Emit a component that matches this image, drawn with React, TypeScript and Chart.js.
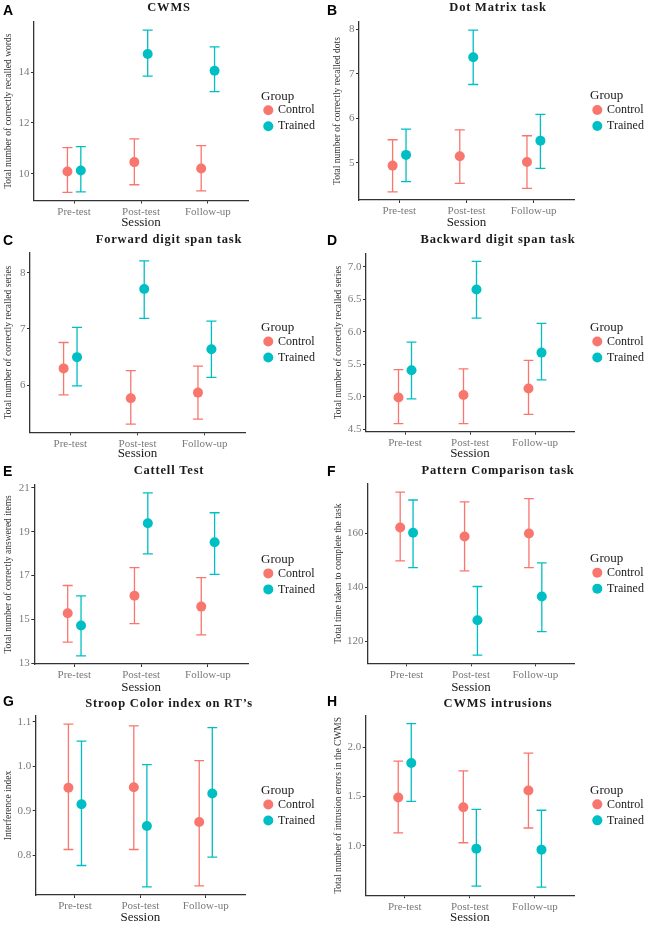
import React, { useEffect, useRef } from "react";
import { Chart, registerables } from "chart.js";

Chart.register(...registerables);

// ---------- shared labels ----------
const sessions = ["Pre-test", "Post-test", "Follow-up"];
const groupNames = ["Control", "Trained"];
const groupColors = ["#F8766D", "#00BFC4"];
const legendTitle = "Group";
const xAxisTitle = "Session";

// ---------- A: CWMS ----------
const cwmsControlMean = [10.09, 10.46, 10.21];
const cwmsControlLow = [9.27, 9.57, 9.33];
const cwmsControlHigh = [11.03, 11.37, 11.11];
const cwmsTrainedMean = [10.13, 14.71, 14.05];
const cwmsTrainedLow = [9.29, 13.84, 13.23];
const cwmsTrainedHigh = [11.07, 15.65, 14.99];
const cwmsTicks = ["10", "12", "14"];

// ---------- B: Dot Matrix ----------
const dotControlMean = [4.94, 5.15, 5.02];
const dotControlLow = [4.35, 4.54, 4.43];
const dotControlHigh = [5.52, 5.74, 5.61];
const dotTrainedMean = [5.18, 7.37, 5.5];
const dotTrainedLow = [4.58, 6.76, 4.88];
const dotTrainedHigh = [5.76, 7.98, 6.09];
const dotTicks = ["5", "6", "7", "8"];

// ---------- C: Forward digit span ----------
const fwdControlMean = [6.3, 5.77, 5.87];
const fwdControlLow = [5.83, 5.31, 5.4];
const fwdControlHigh = [6.76, 6.26, 6.34];
const fwdTrainedMean = [6.5, 7.71, 6.64];
const fwdTrainedLow = [5.99, 7.19, 6.14];
const fwdTrainedHigh = [7.03, 8.21, 7.14];
const fwdTicks = ["6", "7", "8"];

// ---------- D: Backward digit span ----------
const bwdControlMean = [4.99, 5.03, 5.13];
const bwdControlLow = [4.59, 4.59, 4.73];
const bwdControlHigh = [5.42, 5.43, 5.56];
const bwdTrainedMean = [5.41, 6.65, 5.68];
const bwdTrainedLow = [4.97, 6.21, 5.26];
const bwdTrainedHigh = [5.84, 7.08, 6.13];
const bwdTicks = ["4.5", "5.0", "5.5", "6.0", "6.5", "7.0"];

// ---------- E: Cattell ----------
const catControlMean = [15.29, 16.08, 15.59];
const catControlLow = [13.97, 14.82, 14.3];
const catControlHigh = [16.55, 17.36, 16.91];
const catTrainedMean = [14.73, 19.38, 18.52];
const catTrainedLow = [13.35, 17.99, 17.06];
const catTrainedHigh = [16.08, 20.76, 19.86];
const catTicks = ["13", "15", "17", "19", "21"];

// ---------- F: Pattern Comparison ----------
const patControlMean = [162.1, 158.8, 159.9];
const patControlLow = [149.8, 146.1, 147.3];
const patControlHigh = [175.2, 171.6, 172.8];
const patTrainedMean = [160.2, 127.8, 136.6];
const patTrainedLow = [147.3, 114.9, 123.6];
const patTrainedHigh = [172.3, 140.3, 149.0];
const patTicks = ["120", "140", "160"];

// ---------- G: Stroop ----------
const strControlMean = [0.952, 0.953, 0.875];
const strControlLow = [0.813, 0.813, 0.731];
const strControlHigh = [1.095, 1.091, 1.013];
const strTrainedMean = [0.915, 0.866, 0.939];
const strTrainedLow = [0.777, 0.729, 0.796];
const strTrainedHigh = [1.057, 1.004, 1.087];
const strTicks = ["0.8", "0.9", "1.0", "1.1"];

// ---------- H: CWMS intrusions ----------
const intControlMean = [1.49, 1.39, 1.56];
const intControlLow = [1.13, 1.03, 1.18];
const intControlHigh = [1.86, 1.76, 1.94];
const intTrainedMean = [1.84, 0.97, 0.96];
const intTrainedLow = [1.45, 0.59, 0.58];
const intTrainedHigh = [2.24, 1.37, 1.36];
const intTicks = ["1.0", "1.5", "2.0"];

const panels = [
  { letter: "A", title: "CWMS", yTitle: "Total number of correctly recalled words", yTicks: cwmsTicks,
    control: [cwmsControlMean, cwmsControlLow, cwmsControlHigh], trained: [cwmsTrainedMean, cwmsTrainedLow, cwmsTrainedHigh] },
  { letter: "B", title: "Dot Matrix task", yTitle: "Total number of correctly recalled dots", yTicks: dotTicks,
    control: [dotControlMean, dotControlLow, dotControlHigh], trained: [dotTrainedMean, dotTrainedLow, dotTrainedHigh] },
  { letter: "C", title: "Forward digit span task", yTitle: "Total number of correctly recalled series", yTicks: fwdTicks,
    control: [fwdControlMean, fwdControlLow, fwdControlHigh], trained: [fwdTrainedMean, fwdTrainedLow, fwdTrainedHigh] },
  { letter: "D", title: "Backward digit span task", yTitle: "Total number of correctly recalled series", yTicks: bwdTicks,
    control: [bwdControlMean, bwdControlLow, bwdControlHigh], trained: [bwdTrainedMean, bwdTrainedLow, bwdTrainedHigh] },
  { letter: "E", title: "Cattell Test", yTitle: "Total number of correctly answered items", yTicks: catTicks,
    control: [catControlMean, catControlLow, catControlHigh], trained: [catTrainedMean, catTrainedLow, catTrainedHigh] },
  { letter: "F", title: "Pattern Comparison task", yTitle: "Total time taken to complete the task", yTicks: patTicks,
    control: [patControlMean, patControlLow, patControlHigh], trained: [patTrainedMean, patTrainedLow, patTrainedHigh] },
  { letter: "G", title: "Stroop Color index on RT\u2019s", yTitle: "Interference index", yTicks: strTicks,
    control: [strControlMean, strControlLow, strControlHigh], trained: [strTrainedMean, strTrainedLow, strTrainedHigh] },
  { letter: "H", title: "CWMS intrusions", yTitle: "Total number of intrusion errors in the CWMS", yTicks: intTicks,
    control: [intControlMean, intControlLow, intControlHigh], trained: [intTrainedMean, intTrainedLow, intTrainedHigh] },
];

// ---------- layout (positions, not data) ----------
const ROW_TOP = [0, 230, 460, 695];
const ROW_H = [230, 230, 235, 236];
const COL_LEFT = [0, 324];
const COL_W = 324;
const TITLE_X = [169, 174];
const TITLE_Y = [8, 10, 11, 8.5];
const LETTER_BASE = [15, 15, 16, 10.5];
const LEGEND_X = [261, 266];

const layouts = [
  { col: 0, row: 0, plotLeft: 34, plotRight: 248, plotTop: 22, plotBottom: 200.5, yTitleX: 8.5, sessionY: 223 },
  { col: 1, row: 0, plotLeft: 35, plotRight: 250, plotTop: 22, plotBottom: 200, yTitleX: 13.3, sessionY: 222.7 },
  { col: 0, row: 1, plotLeft: 30, plotRight: 245, plotTop: 22.7, plotBottom: 202.3, yTitleX: 8.3, sessionY: 223.5 },
  { col: 1, row: 1, plotLeft: 42, plotRight: 250, plotTop: 23.3, plotBottom: 201.7, yTitleX: 14, sessionY: 223.5 },
  { col: 0, row: 2, plotLeft: 34.3, plotRight: 248, plotTop: 24.8, plotBottom: 204, yTitleX: 8.3, sessionY: 228 },
  { col: 1, row: 2, plotLeft: 44, plotRight: 250, plotTop: 24, plotBottom: 203.3, yTitleX: 14, sessionY: 227.7 },
  { col: 0, row: 3, plotLeft: 35.7, plotRight: 245, plotTop: 21, plotBottom: 200, yTitleX: 8.3, sessionY: 222.7 },
  { col: 1, row: 3, plotLeft: 41.7, plotRight: 250, plotTop: 20.5, plotBottom: 200.2, yTitleX: 14, sessionY: 222.7 },
];

const DODGE = 0.1;
const CAP = 0.075;
const SERIF = '"Liberation Serif", "Times New Roman", serif';
const SANS = '"Liberation Sans", Arial, sans-serif';
const Y_TITLE_SIZE = 9.5;
const X_TITLE_SIZE = 13;
const TICK_COLOR = "#7a7a7a";
const AXIS_COLOR = "#333333";
const TEXT_COLOR = "#1a1a1a";

function PanelChart({ p, l }: { p: any; l: any }) {
  const ref = useRef<HTMLCanvasElement>(null);
  const H = ROW_H[l.row];
  const W = COL_W;

  useEffect(() => {
    const canvas = ref.current;
    if (!canvas) return;
    const series = [p.control, p.trained];
    const lo = Math.min(...p.control[1], ...p.trained[1]);
    const hi = Math.max(...p.control[2], ...p.trained[2]);
    const span = hi - lo;
    const yMin = lo - 0.05 * span;
    const yMax = hi + 0.05 * span;
    const tickVals = p.yTicks.map((t: string) => parseFloat(t));
    const sessionY = Math.min(l.sessionY, H - X_TITLE_SIZE / 2);
    const padLeft = l.yTitleX - Y_TITLE_SIZE / 2;
    const padBottom = H - (sessionY + X_TITLE_SIZE / 2);

    const errorBars = {
      id: "errorBars",
      beforeDatasetsDraw(chart: any) {
        const { ctx } = chart;
        const xs = chart.scales.x;
        const ys = chart.scales.y;
        ctx.save();
        ctx.lineWidth = 1.3;
        series.forEach((s: number[][], gi: number) => {
          ctx.strokeStyle = groupColors[gi];
          s[0].forEach((_v: number, i: number) => {
            const xv = i + 1 + (gi === 0 ? -DODGE : DODGE);
            const px = xs.getPixelForValue(xv);
            const half = xs.getPixelForValue(xv + CAP) - px;
            const top = ys.getPixelForValue(s[2][i]);
            const bot = ys.getPixelForValue(s[1][i]);
            ctx.beginPath();
            ctx.moveTo(px, top);
            ctx.lineTo(px, bot);
            ctx.moveTo(px - half, top);
            ctx.lineTo(px + half, top);
            ctx.moveTo(px - half, bot);
            ctx.lineTo(px + half, bot);
            ctx.stroke();
          });
        });
        ctx.restore();
      },
    };

    const decor = {
      id: "decor",
      afterDraw(chart: any) {
        const ctx = chart.ctx;
        const ca = chart.chartArea;
        ctx.save();
        // panel letter
        ctx.fillStyle = "#000";
        ctx.font = `bold 14px ${SANS}`;
        ctx.textAlign = "left";
        ctx.textBaseline = "alphabetic";
        ctx.fillText(p.letter, 3, LETTER_BASE[l.row]);
        // title
        ctx.fillStyle = TEXT_COLOR;
        ctx.font = `bold 12.5px ${SERIF}`;
        ctx.textAlign = "center";
        ctx.textBaseline = "middle";
        (ctx as any).letterSpacing = "0.8px";
        ctx.fillText(p.title, TITLE_X[l.col], TITLE_Y[l.row]);
        (ctx as any).letterSpacing = "0px";
        // legend
        const mid = (ca.top + ca.bottom) / 2;
        const lx = LEGEND_X[l.col];
        ctx.textAlign = "left";
        ctx.font = `13px ${SERIF}`;
        ctx.fillText(legendTitle, lx, mid - 15);
        groupNames.forEach((g, gi) => {
          const cy = mid - 1 + gi * 16;
          ctx.fillStyle = groupColors[gi];
          ctx.beginPath();
          ctx.arc(lx + 7.3, cy, 5, 0, Math.PI * 2);
          ctx.fill();
          ctx.fillStyle = TEXT_COLOR;
          ctx.font = `12px ${SERIF}`;
          ctx.fillText(g, lx + 17, cy);
        });
        ctx.restore();
      },
    };

    const chart = new Chart(canvas, {
      type: "scatter",
      data: {
        datasets: series.map((s: number[][], gi: number) => ({
          label: groupNames[gi],
          data: s[0].map((m: number, i: number) => ({ x: i + 1 + (gi === 0 ? -DODGE : DODGE), y: m })),
          backgroundColor: groupColors[gi],
          borderWidth: 0,
          pointRadius: 5,
          pointHoverRadius: 5,
        })),
      },
      options: {
        animation: false,
        responsive: false,
        maintainAspectRatio: false,
        events: [],
        layout: {
          padding: { left: padLeft, top: l.plotTop, right: W - l.plotRight, bottom: padBottom },
        },
        plugins: {
          legend: { display: false },
          title: { display: false },
          tooltip: { enabled: false },
        },
        scales: {
          x: {
            type: "linear",
            min: 0.4,
            max: 3.6,
            bounds: "data",
            afterBuildTicks: (s: any) => {
              s.ticks = sessions.map((_n, i) => ({ value: i + 1 }));
            },
            afterFit: (s: any) => {
              s.height = sessionY + X_TITLE_SIZE / 2 - l.plotBottom;
            },
            ticks: {
              callback: (v: any) => sessions[Math.round(Number(v)) - 1],
              font: { family: SERIF, size: 11 },
              color: TICK_COLOR,
              padding: 2,
              autoSkip: false,
              maxRotation: 0,
              minRotation: 0,
            },
            grid: { drawOnChartArea: false, drawTicks: true, tickLength: 3, color: AXIS_COLOR, lineWidth: 1 },
            border: { display: true, color: AXIS_COLOR, width: 1.3 },
            title: {
              display: true,
              text: xAxisTitle,
              font: { family: SERIF, size: X_TITLE_SIZE, lineHeight: 1 },
              padding: 0,
              color: TEXT_COLOR,
            },
          },
          y: {
            type: "linear",
            min: yMin,
            max: yMax,
            bounds: "data",
            afterBuildTicks: (s: any) => {
              s.ticks = tickVals.map((v: number) => ({ value: v }));
            },
            afterFit: (s: any) => {
              s.width = l.plotLeft - padLeft;
            },
            ticks: {
              callback: (_v: any, i: number) => p.yTicks[i],
              font: { family: SERIF, size: 11 },
              color: TICK_COLOR,
              padding: 1.5,
              autoSkip: false,
            },
            grid: { drawOnChartArea: false, drawTicks: true, tickLength: 3, color: AXIS_COLOR, lineWidth: 1 },
            border: { display: true, color: AXIS_COLOR, width: 1.3 },
            title: {
              display: true,
              text: p.yTitle,
              font: { family: SERIF, size: Y_TITLE_SIZE, lineHeight: 1 },
              padding: 0,
              color: "#333",
            },
          },
        },
      } as any,
      plugins: [errorBars, decor],
    });
    return () => chart.destroy();
  }, []);

  return (
    <canvas
      ref={ref}
      width={W}
      height={H}
      style={{ position: "absolute", left: COL_LEFT[l.col], top: ROW_TOP[l.row], width: W, height: H }}
    />
  );
}

export default function App() {
  return (
    <div style={{ position: "absolute", left: 0, top: 0, width: 648, height: 931, background: "#fff", overflow: "hidden" }}>
      {panels.map((p, i) => (
        <PanelChart key={p.letter} p={p} l={layouts[i]} />
      ))}
    </div>
  );
}
